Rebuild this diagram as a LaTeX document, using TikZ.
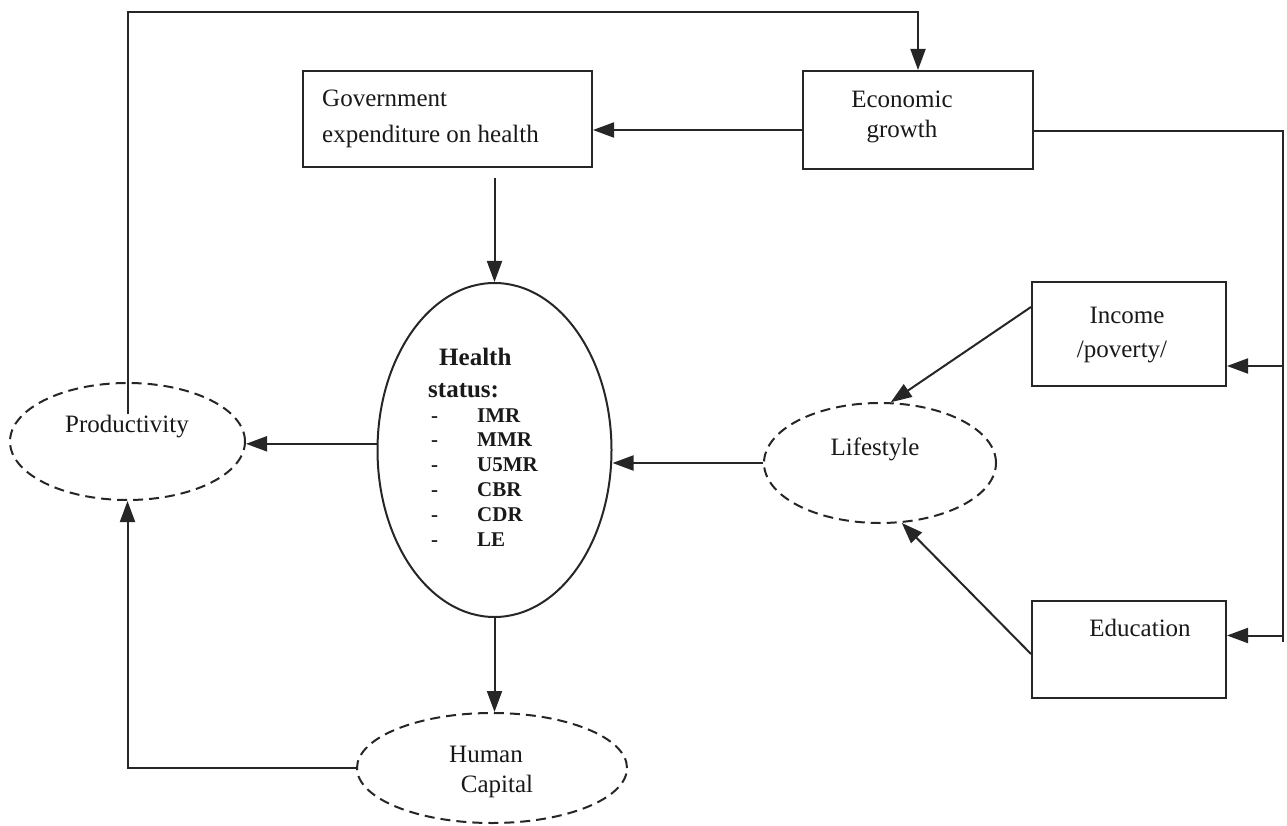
\documentclass[tikz,border=0pt]{standalone}
\usepackage{fontspec}
\setmainfont{Liberation Serif}
\usetikzlibrary{shapes.geometric,arrows.meta,calc}
\begin{document}
\begin{tikzpicture}[x=1pt,y=-1pt,
  boxnode/.style={draw=black!85, line width=2pt, rectangle, inner sep=0pt},
  dashell/.style={draw=black!85, ellipse, line width=2pt, dash pattern=on 10pt off 6pt, inner sep=0pt},
  solidell/.style={draw=black!85, ellipse, line width=2pt, inner sep=0pt},
  lbl/.style={font=\fontsize{25}{30}\selectfont, inner sep=0pt, anchor=base, text=black!90},
  lblw/.style={lbl, anchor=base west},
  hs/.style={font=\bfseries\fontsize{25}{30}\selectfont, inner sep=0pt, anchor=base west, text=black!90},
  hsi/.style={font=\bfseries\fontsize{21}{25}\selectfont, inner sep=0pt, anchor=base west, text=black!90},
  conn/.style={draw=black!85, line width=2pt},
  arr/.style={conn, -{Triangle[length=21pt,width=15pt]}}]

\useasboundingbox (0,0) rectangle (1287,826);

% boxes
\node[boxnode, minimum width=289pt, minimum height=96pt] (gov) at (447.5,119) {};
\node[boxnode, minimum width=230pt, minimum height=98pt] (econ) at (918,120) {};
\node[boxnode, minimum width=194pt, minimum height=104pt] (income) at (1129,334) {};
\node[boxnode, minimum width=194pt, minimum height=97pt] (edu) at (1129,649.5) {};

% ellipses
\node[solidell, minimum width=234pt, minimum height=334pt] (health) at (494.5,450) {};
\node[dashell, minimum width=235pt, minimum height=117pt] (prod) at (127.5,441.5) {};
\node[dashell, minimum width=232pt, minimum height=120pt] (life) at (880,463) {};
\node[dashell, minimum width=270pt, minimum height=110pt] (human) at (492,768) {};

% texts
\node[lblw] (govA) at (322,107) {Government};
\node[lblw] (govB) at (322,143) {expenditure on health};
\node[lbl] (econA) at (902,108) {Economic};
\node[lbl] (econB) at (902,138) {growth};
\node[lbl] (incA) at (1127,323) {Income};
\node[lbl] (incB) at (1122,357) {/poverty/};
\node[lbl] (eduA) at (1140,636) {Education};
\node[lbl] (lifeA) at (875,455) {Lifestyle};
\node[lbl] (prodA) at (127,432) {Productivity};
\node[lbl] (humA) at (486,762) {Human};
\node[lbl] (humB) at (497,792) {Capital};

\node[hs] (hsA) at (439,365) {Health};
\node[hs] (hsB) at (428,397) {status:};
\foreach \t [count=\i from 0] in {IMR,MMR,U5MR,CBR,CDR,LE}{
  \node[hsi] (hd\i) at (431,{422+24.8*\i}) {-};
  \node[hsi] (hi\i) at (477,{422+24.8*\i}) {\t};
}

% connectors
\coordinate (pstart) at (127.5,414);
\coordinate (topl) at (127.5,12);
\draw[arr] (pstart) -- (topl) -| (econ.north);

\draw[arr] ([yshift=-10pt]econ.west) -- ([yshift=-10pt]econ.west -| gov.east);

\coordinate (rc) at (1283,131);
\coordinate (rb) at (1283,642);
\draw[conn] ([yshift=-11pt]econ.east) -- (rc) -- (rb);
\draw[arr] ([yshift=-32pt]income.east -| rc) -- ([yshift=-32pt]income.east);
\draw[arr] ([yshift=14pt]edu.east -| rc) -- ([yshift=14pt]edu.east);

\draw[arr] ([yshift=-10pt]health.north |- gov.south) -- (health.north);
\draw[arr] ([yshift=-26pt]income.north west) -- (life.80);
\draw[arr] ([yshift=-54pt]edu.north west) -- (life.-70);
\draw[arr] (life.west) -- (life.west -| health.east);
\draw[arr] (health.177) -- (health.177 -| prod.east);
\draw[arr] (health.south) -- (health.south |- human.north);
\draw[arr] (human.west) -| (prod.south);

\end{tikzpicture}
\end{document}
